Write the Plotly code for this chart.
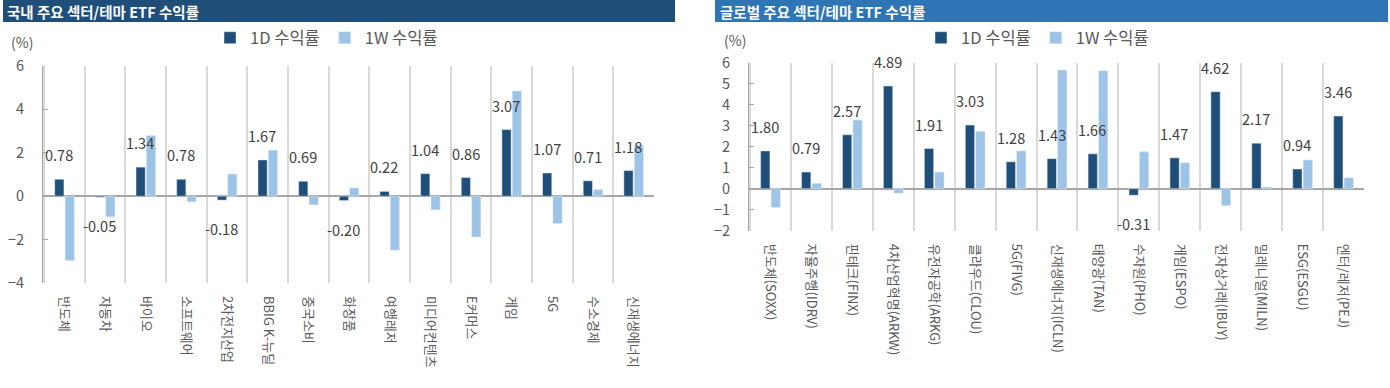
import plotly.graph_objects as go

W, H = 1390, 388

# ---------------- data ----------------
dom_categories = ["반도체", "자동차", "바이오", "소프트웨어", "2차전지산업", "BBIG K-뉴딜", "중국소비",
                  "화장품", "여행레저", "미디어컨텐츠", "E커머스", "게임", "5G", "수소경제", "신재생에너지"]
dom_1d = [0.78, -0.05, 1.34, 0.78, -0.18, 1.67, 0.69, -0.20, 0.22, 1.04, 0.86, 3.07, 1.07, 0.71, 1.18]
dom_1w = [-2.97, -0.95, 2.80, -0.26, 1.02, 2.12, -0.40, 0.38, -2.49, -0.63, -1.88, 4.85, -1.26, 0.31, 2.35]

glb_categories = ["반도체(SOXX)", "자율주행(IDRV)", "핀테크(FINX)", "4차산업혁명(ARKW)", "유전자공학(ARKG)",
                  "클라우드(CLOU)", "5G(FIVG)", "신재생에너지(ICLN)", "태양광(TAN)", "수자원(PHO)",
                  "게임(ESPO)", "전자상거래(IBUY)", "밀레니얼(MILN)", "ESG(ESGU)", "엔터/레저(PEJ)"]
glb_1d = [1.80, 0.79, 2.57, 4.89, 1.91, 3.03, 1.28, 1.43, 1.66, -0.31, 1.47, 4.62, 2.17, 0.94, 3.46]
glb_1w = [-0.90, 0.26, 3.27, -0.22, 0.79, 2.73, 1.80, 5.65, 5.62, 1.76, 1.24, -0.81, 0.08, 1.37, 0.52]

series_names = ["1D 수익률", "1W 수익률"]
titles = ["국내 주요 섹터/테마 ETF 수익률", "글로벌 주요 섹터/테마 ETF 수익률"]
dom_yticks = [-4, -2, 0, 2, 4, 6]
glb_yticks = [-2, -1, 0, 1, 2, 3, 4, 5, 6]

# ---------------- style ----------------
FONT = "Noto Sans CJK KR"
C1D = "#1F4E79"
C1W = "#9DC3E6"
GREY = "#595959"
AXIS = "#A6A6A6"
GRID = "#D9D9D9"

def px(x):
    return x / W

def py(y):
    return 1 - y / H

fig = go.Figure()

panels = [
    dict(cats=dom_categories, d1=dom_1d, d2=dom_1w, xa="x", ya="y", legend="legend"),
    dict(cats=glb_categories, d1=glb_1d, d2=glb_1w, xa="x2", ya="y2", legend="legend2"),
]

for p in panels:
    fig.add_trace(go.Bar(x=p["cats"], y=p["d1"], name=series_names[0], marker_color=C1D,
                         xaxis=p["xa"], yaxis=p["ya"], legend=p["legend"]))
    fig.add_trace(go.Bar(x=p["cats"], y=p["d2"], name=series_names[1], marker_color=C1W,
                         xaxis=p["xa"], yaxis=p["ya"], legend=p["legend"]))

annotations = []
for p in panels:
    for c, v in zip(p["cats"], p["d1"]):
        pos = v >= 0
        annotations.append(dict(
            x=c, y=v, xref=p["xa"], yref=p["ya"], text=f"{v:.2f}", showarrow=False,
            xshift=-5.5, yshift=12 if pos else -16, yanchor="bottom" if pos else "top",
            font=dict(family=FONT, size=14.5, color="#404040")))

# title bars
shapes = [
    dict(type="rect", xref="paper", yref="paper", x0=px(3), x1=px(675), y0=py(22), y1=py(0),
         fillcolor="#1F4E79", line_width=0, layer="below"),
    dict(type="rect", xref="paper", yref="paper", x0=px(715), x1=px(1388), y0=py(22), y1=py(0),
         fillcolor="#2E75B6", line_width=0, layer="below"),
]
for t, x0 in zip(titles, [5, 718]):
    annotations.append(dict(x=px(x0), y=py(11), xref="paper", yref="paper", text=f"<b>{t}</b>",
                            showarrow=False, xanchor="left", yanchor="middle",
                            font=dict(family=FONT, size=14.5, color="white")))
for x0, y0 in [(9, 42), (722, 40)]:
    annotations.append(dict(x=px(x0), y=py(y0), xref="paper", yref="paper", text="(%)",
                            showarrow=False, xanchor="left", yanchor="middle",
                            font=dict(family=FONT, size=14, color=GREY)))

xcommon = dict(type="category", tickson="boundaries", showgrid=True, gridcolor=GRID, gridwidth=1.5,
               showline=False, ticks="", tickangle=90, ticklabelstandoff=12, automargin=False,
               tickfont=dict(family=FONT, size=13, color=GREY), fixedrange=True)
ycommon = dict(showgrid=False, zeroline=True, zerolinecolor=AXIS, zerolinewidth=1.5, automargin=False,
               showline=True, linecolor=AXIS, linewidth=1, ticks="inside", ticklen=5, tickcolor=AXIS,
               ticklabelstandoff=15, tickfont=dict(family=FONT, size=14.5, color=GREY), fixedrange=True)

legend_common = dict(orientation="h", xanchor="left", yanchor="middle", itemwidth=30,
                     font=dict(family=FONT, size=16.5, color=GREY), bgcolor="rgba(0,0,0,0)")

fig.update_layout(
    width=W, height=H,
    margin=dict(l=0, r=0, t=0, b=0, pad=0, autoexpand=False),
    paper_bgcolor="white", plot_bgcolor="white",
    font=dict(family=FONT, color=GREY),
    barmode="group", bargap=0.49, bargroupgap=0.11,
    xaxis=dict(domain=[px(43), px(654)], anchor="y", **xcommon),
    yaxis=dict(domain=[py(283), py(66)], anchor="x", range=[-4, 6], tickvals=dom_yticks, **ycommon),
    xaxis2=dict(domain=[px(749), px(1364)], anchor="y2", **xcommon),
    yaxis2=dict(domain=[py(230.7), py(62.7)], anchor="x2", range=[-2, 6], tickvals=glb_yticks, **ycommon),
    legend=dict(x=px(210), y=py(38), **legend_common),
    legend2=dict(x=px(921), y=py(38), **legend_common),
    shapes=shapes,
    annotations=annotations,
    showlegend=True,
)

fig.write_html("out.html", config={"displayModeBar": False},
               post_script="document.body.style.margin='0px';")
